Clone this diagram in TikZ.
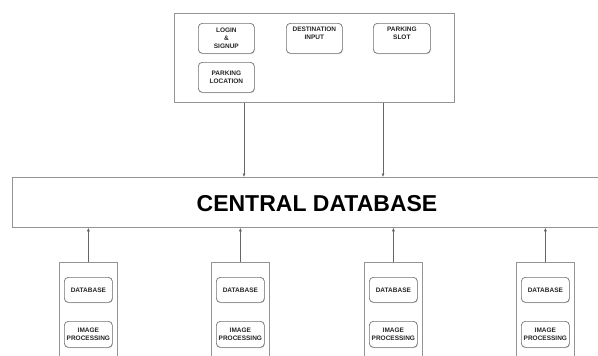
\documentclass[tikz,border=0pt]{standalone}
\usepackage{fontspec}
\setmainfont{Liberation Sans}
\usetikzlibrary{arrows.meta,shadows}
\begin{document}
\begin{tikzpicture}[x=1pt,y=-1pt,
  outer/.style={draw=black!42, line width=0.8pt, inner sep=0pt, anchor=north west},
  item/.style={draw=black!55, line width=0.7pt, rounded corners=4pt, fill=white,
    drop shadow={shadow xshift=0.6pt, shadow yshift=-0.8pt, opacity=0.35},
    align=center, font=\bfseries\fontsize{6.5}{7.6}\selectfont, text=black!85,
    inner sep=0pt, anchor=north west},
  link/.style={draw=black!60, line width=0.6pt, -{Latex[length=3.5pt,width=3pt]}}]
\useasboundingbox (0,0) rectangle (598,356);
\clip (0,0) rectangle (598,356);
\fill[white] (0,0) rectangle (598,356);
% top application box
\node[outer, minimum width=280pt, minimum height=89pt] (app) at (174,13) {};
\node[item, minimum width=56pt, minimum height=30pt] (login) at (198,23) {LOGIN\\\&\\SIGNUP};
\node[item, minimum width=56pt, minimum height=30pt] (dest) at (286,23) {DESTINATION\\INPUT\\[3pt]};
\node[item, minimum width=57pt, minimum height=30pt] (slot) at (373,23) {PARKING\\SLOT\\[3pt]};
\node[item, minimum width=56pt, minimum height=30pt] (ploc) at (198,62) {PARKING\\LOCATION};
% central database
\node[outer, minimum width=610pt, minimum height=50pt] (central) at (12,177) {};
\node[font=\bfseries\fontsize{23}{25}\selectfont, inner sep=0pt] (ctitle) at (317,204) {CENTRAL DATABASE};
\coordinate (t1) at (244,0);
\coordinate (t2) at (383,0);
\draw[link] (app.south -| t1) -- (central.north -| t1);
\draw[link] (app.south -| t2) -- (central.north -| t2);
% bottom stations
\foreach \i/\x in {1/59, 2/211, 3/364, 4/516} {
  \node[outer, minimum width=58pt, minimum height=110pt] (s\i) at (\x,262) {};
  \node[item, minimum width=48pt, minimum height=25pt] (db\i) at (\x+5,277) {DATABASE};
  \node[item, minimum width=48pt, minimum height=26pt] (ip\i) at (\x+5,321) {IMAGE\\PROCESSING};
  \draw[link] (s\i.north) -- (s\i.north |- central.south);
}
\end{tikzpicture}
\end{document}
